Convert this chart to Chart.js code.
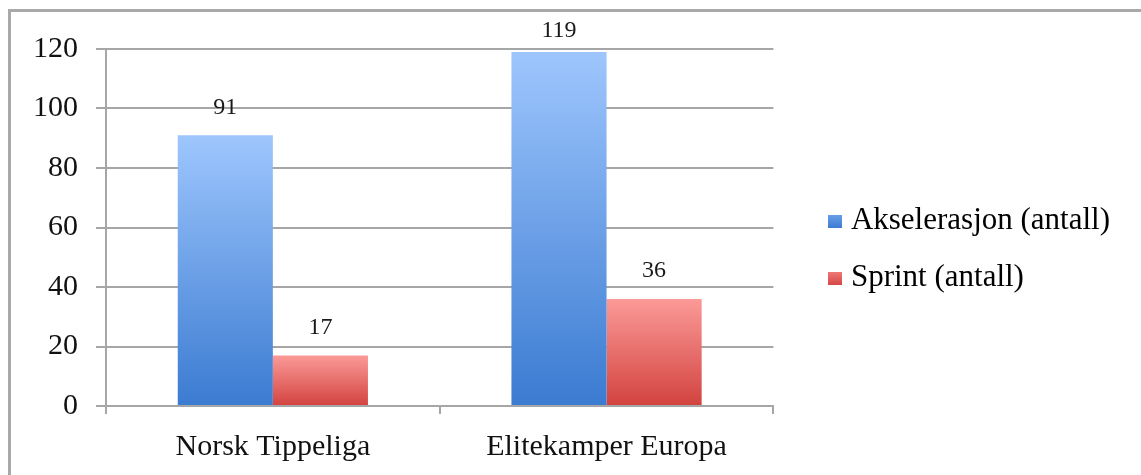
<!DOCTYPE html>
<html>
<head>
<meta charset="utf-8">
<script src="https://cdn.jsdelivr.net/npm/chart.js@4"></script>
<style>
  body { margin: 0; background: #fff; overflow: hidden; }
  #frame {
    position: absolute; left: 8px; top: 9px;
    border-top: 3px solid #a9a9a9; border-left: 3px solid #a9a9a9;
  }
</style>
</head>
<body>
<div id="frame"><canvas id="chart" width="1130" height="463"></canvas></div>
<script>
const categories = ['Norsk Tippeliga', 'Elitekamper Europa'];
const seriesNames = ['Akselerasjon (antall)', 'Sprint (antall)'];
const akselerasjon = [91, 119];
const sprint = [17, 36];
const yTicks = [0, 20, 40, 60, 80, 100, 120];

const gridColor = '#a6a6a6';
const blueTop = '#9ec6fd', blueBottom = '#3b7bd1', blueSolid = '#4f8ade';
const redTop = '#fb9a98', redBottom = '#d2433f', redSolid = '#df5956';

Chart.defaults.font.family = '"Liberation Serif", "Times New Roman", serif';
Chart.defaults.color = '#111';

function barGradient(top, bottom, solid) {
    return function(ctx) {
        const chart = ctx.chart;
        if (ctx.dataIndex === undefined || !chart.chartArea) return solid;
        const y = chart.scales.y;
        const yTop = y.getPixelForValue(ctx.raw);
        const yBase = y.getPixelForValue(0);
        const g = chart.ctx.createLinearGradient(0, yTop, 0, yBase);
        g.addColorStop(0, top);
        g.addColorStop(1, bottom);
        return g;
    };
}

// small square swatch for the legend
function swatch(top, bottom) {
    const c = document.createElement('canvas');
    c.width = 14;
    c.height = 13;
    const x = c.getContext('2d');
    const g = x.createLinearGradient(0, 0, 0, 13);
    g.addColorStop(0, top);
    g.addColorStop(1, bottom);
    x.fillStyle = g;
    x.fillRect(0, 0, 14, 13);
    return c;
}
const swatches = [swatch('#6b9fe8', '#3f7dd2'), swatch('#f07a78', '#d54a47')];

// value labels above each bar, kept inside the top margin like the original
const valueLabels = {
    id: 'valueLabels',
    afterDatasetsDraw(chart) {
        const ctx = chart.ctx;
        ctx.save();
        ctx.font = '24px "Liberation Serif", serif';
        ctx.fillStyle = '#1a1a1a';
        ctx.textAlign = 'center';
        ctx.textBaseline = 'middle';
        chart.data.datasets.forEach((ds, i) => {
            chart.getDatasetMeta(i).data.forEach((bar, j) => {
                const y = Math.max(bar.y - 28, chart.chartArea.top - 18);
                ctx.fillText(ds.data[j], bar.x, y);
            });
        });
        ctx.restore();
    }
};

const chart = new Chart(document.getElementById('chart'), {
    type: 'bar',
    data: {
        labels: categories,
        datasets: [
            { label: seriesNames[0], data: akselerasjon, backgroundColor: barGradient(blueTop, blueBottom, blueSolid) },
            { label: seriesNames[1], data: sprint, backgroundColor: barGradient(redTop, redBottom, redSolid) }
        ]
    },
    options: {
        responsive: false,
        animation: false,
        devicePixelRatio: 1,
        layout: { padding: { top: 23, bottom: 11, left: 0, right: 21 } },
        datasets: { bar: { categoryPercentage: 0.57, barPercentage: 1.0 } },
        plugins: {
            tooltip: { enabled: false },
            legend: {
                position: 'right',
                maxWidth: 420,
                labels: {
                    font: { size: 31 },
                    color: '#111',
                    usePointStyle: true,
                    boxWidth: 1,
                    padding: 26,
                    generateLabels(chart) {
                        return chart.data.datasets.map((ds, i) => ({
                            text: ds.label, pointStyle: swatches[i],
                            fillStyle: blueSolid, lineWidth: 0, hidden: false, datasetIndex: i
                        }));
                    }
                }
            }
        },
        scales: {
            x: {
                grid: { display: true, drawOnChartArea: false, offset: true, color: gridColor, lineWidth: 2, tickLength: 8 },
                border: { color: gridColor, width: 2 },
                ticks: { font: { size: 30 }, padding: 15, color: '#111' },
                afterFit(scale) { scale.height = 58; }
            },
            y: {
                min: 0, max: 120,
                afterBuildTicks(scale) { scale.ticks = yTicks.map(v => ({ value: v })); },
                grid: { color: gridColor, lineWidth: 2, tickLength: 10 },
                border: { color: gridColor, width: 2 },
                ticks: { font: { size: 30 }, padding: 18, color: '#111' },
                afterFit(scale) { scale.width = 95; }
            },
            // empty spacer axes: room above the plot and between plot and legend
            headroom: {
                position: 'top',
                grid: { display: false },
                border: { display: false },
                ticks: { display: false },
                afterFit(scale) { scale.height = 14; }
            },
            gap: {
                position: 'right',
                grid: { display: false },
                border: { display: false },
                ticks: { display: false },
                afterFit(scale) { scale.width = 35; }
            }
        }
    },
    plugins: [valueLabels]
});
</script>
</body>
</html>
